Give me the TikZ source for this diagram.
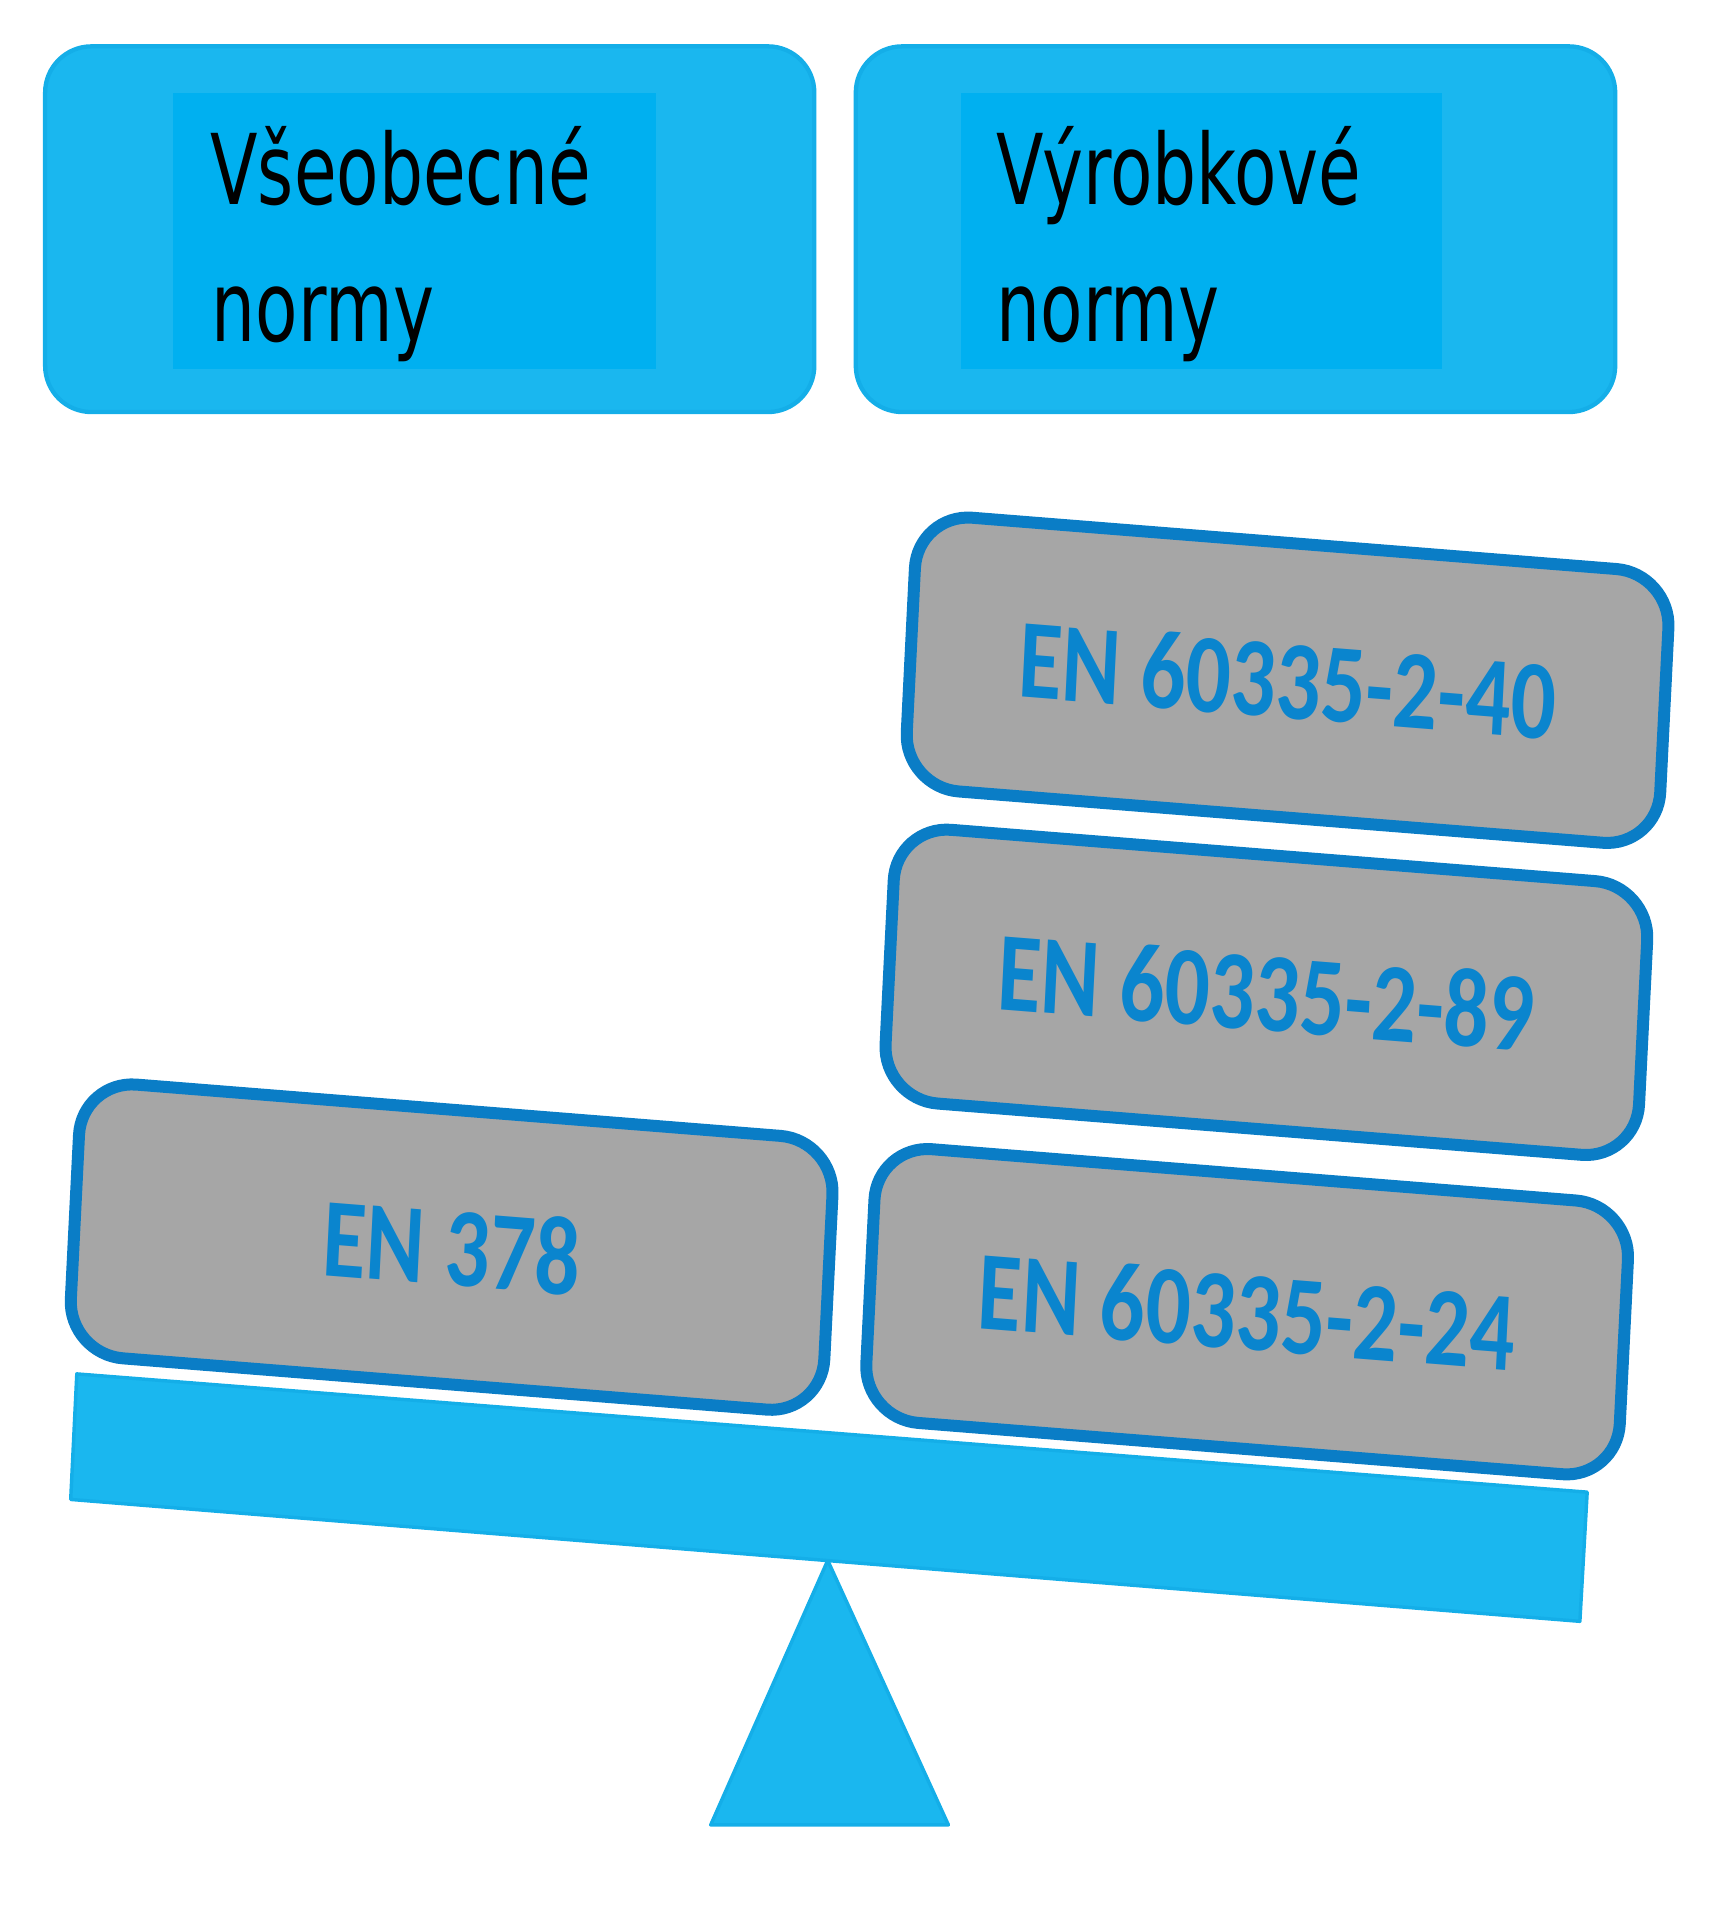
\documentclass[tikz,border=0pt]{standalone}
\usepackage{fontspec}
\usepackage{graphicx}
\newfontfamily\topfont{DejaVu Sans}
\newfontfamily\boxfont{Carlito}
\definecolor{cyanA}{HTML}{1AB7EF}
\definecolor{cyanB}{HTML}{00B0F0}
\definecolor{cyanEdge}{HTML}{14AEE8}
\definecolor{grayfill}{HTML}{A6A6A6}
\definecolor{blueedge}{HTML}{0A7DC6}
\definecolor{bluetext}{HTML}{0A85CE}
\tikzset{
  outerbox/.style={fill=cyanA, draw=cyanEdge, line width=1pt, rounded corners=0.38cm, inner sep=0pt},
  innerbox/.style={fill=cyanB, inner sep=0pt},
  toptext/.style={anchor=base west, inner sep=0pt, font=\topfont\fontsize{22.8pt}{27pt}\selectfont},
  normbox/.style={draw=blueedge, fill=grayfill, line width=2.8pt, rounded corners=0.45cm,
    minimum width=7.84cm, minimum height=2.25cm, rotate=-3.6, transform shape, inner sep=0pt,
    text=bluetext, font=\boxfont\bfseries\fontsize{26.3pt}{30pt}\selectfont},
  beamshape/.style={fill=cyanA, draw=cyanEdge, line width=0.8pt, line join=round}
}
\begin{document}
\begin{tikzpicture}
\useasboundingbox (0,0) rectangle (14.12,-15.75);
% top boxes
\node[outerbox, minimum width=6.31cm, minimum height=3.0cm] (gen) at (3.525,-1.88) {};
\node[innerbox, minimum width=3.96cm, minimum height=2.27cm] (genin) at (3.40,-1.895) {};
\node[toptext] (genA) at (1.72,-1.68) {\scalebox{0.71}[1]{Všeobecné}};
\node[toptext] (genB) at (1.73,-2.80) {\scalebox{0.71}[1]{normy}};
\node[outerbox, minimum width=6.23cm, minimum height=3.0cm] (prod) at (10.135,-1.88) {};
\node[innerbox, minimum width=3.95cm, minimum height=2.27cm] (prodin) at (9.855,-1.895) {};
\node[toptext] (prodA) at (8.17,-1.68) {\scalebox{0.71}[1]{Výrobkové}};
\node[toptext] (prodB) at (8.17,-2.80) {\scalebox{0.71}[1]{normy}};
% seesaw
\draw[beamshape] (6.79,-12.80) -- (7.78,-14.97) -- (5.83,-14.97) -- cycle;
\draw[beamshape] (0.63,-11.27) -- (13.02,-12.24) -- (12.96,-13.30) -- (0.58,-12.30) -- cycle;
% norm boxes
\begin{scope}[xscale=0.79]
\node[normbox] (n40) at (13.37,-5.58) {EN 60335-2-40};
\node[normbox] (n89) at (13.15,-8.14) {EN 60335-2-89};
\node[normbox] (n24) at (12.95,-10.76) {EN 60335-2-24};
\node[normbox] (n378) at (4.69,-10.23) {EN 378};
\end{scope}
\end{tikzpicture}
\end{document}
